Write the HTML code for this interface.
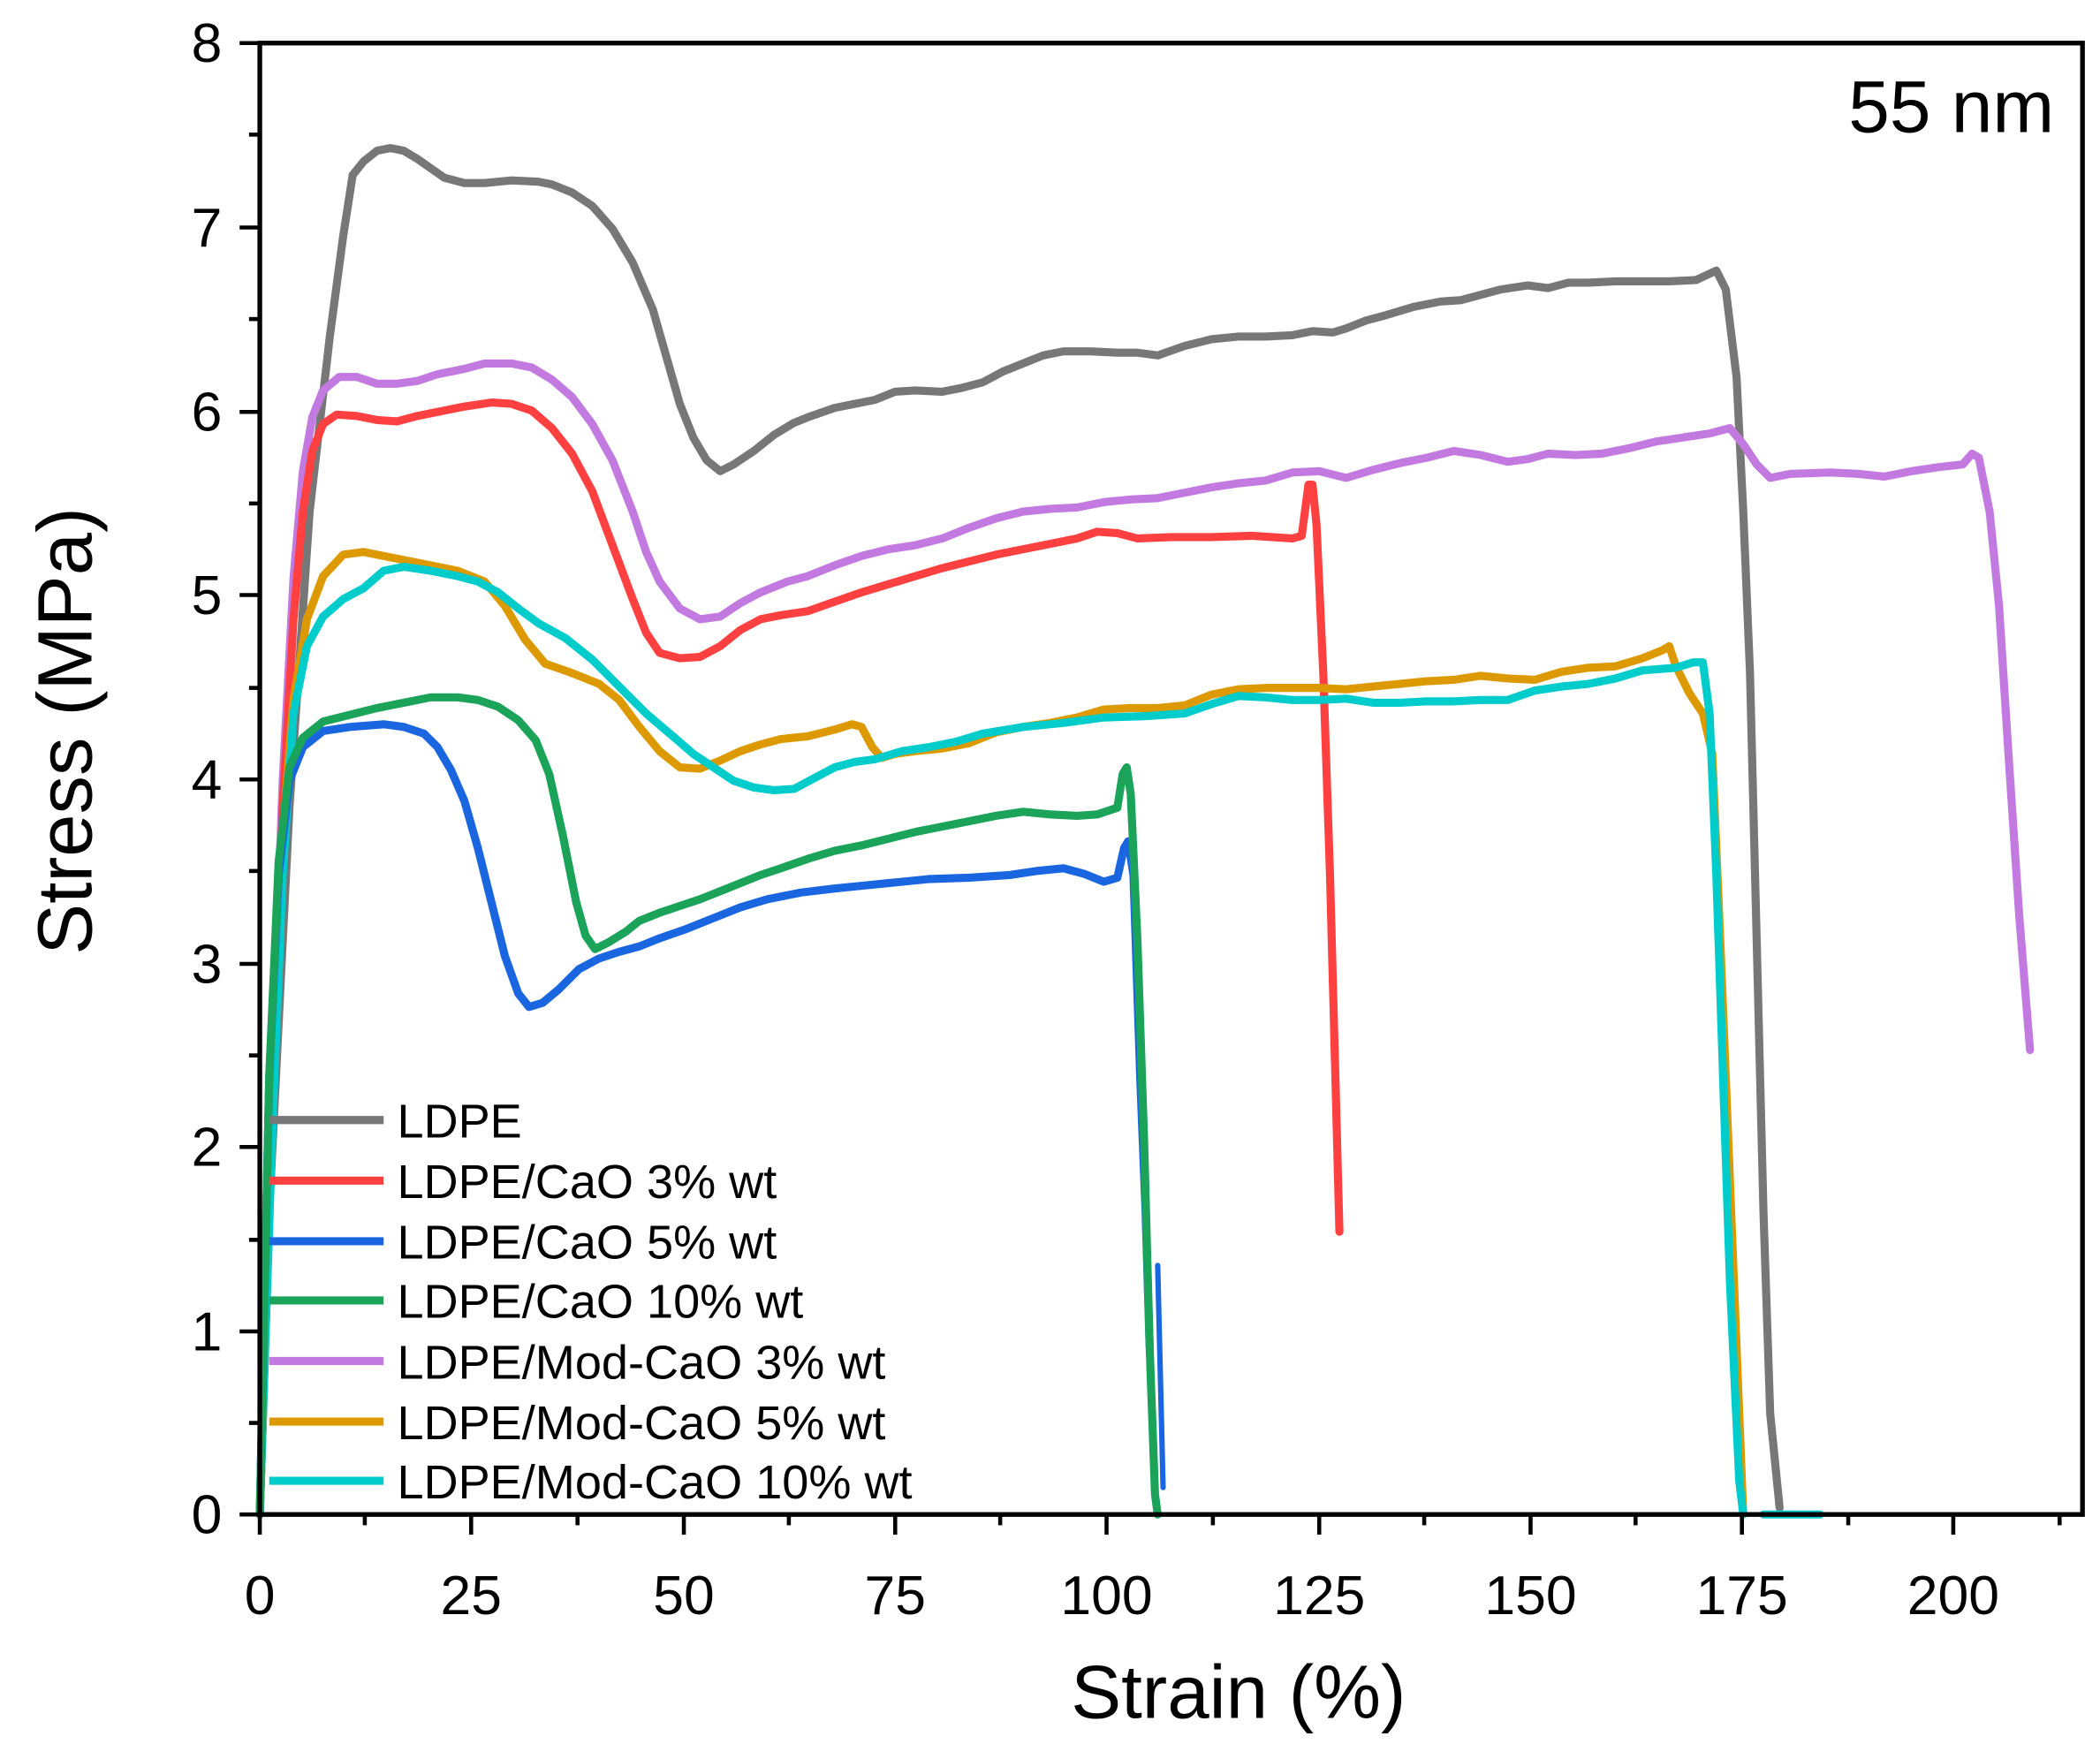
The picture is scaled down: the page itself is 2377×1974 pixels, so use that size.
<!DOCTYPE html>
<html><head><meta charset="utf-8"><style>html,body{margin:0;padding:0;background:#fff}svg{display:block}</style></head>
<body>
<svg width="2377" height="1974" viewBox="0 0 1560 1295.5" preserveAspectRatio="none" xmlns="http://www.w3.org/2000/svg" font-family="Liberation Sans, Arial, sans-serif">
<rect width="1560" height="1296" fill="#fff"/>
<g fill="none" stroke-linejoin="round" stroke-linecap="round" stroke-width="6">
<polyline stroke="#777777" points="193,1125 200,900 215,600 230,380 245,250 255,175 262,130 270,120 280,112 290,110 300,112 310,118 320,125 330,132 345,136 360,136 380,134 400,135 410,137 425,143 440,153 455,170 470,195 485,230 495,265 505,300 515,325 525,342 535,350 545,345 560,335 575,323 590,314 600,310 620,303 635,300 650,297 665,291 680,290 700,291 715,288 730,284 745,276 760,270 775,264 790,261 810,261 830,262 845,262 860,264 880,257 900,252 920,250 940,250 960,249 975,246 990,247 1000,244 1015,238 1030,234 1050,228 1070,224 1085,223 1100,219 1115,215 1135,212 1150,214 1165,210 1180,210 1200,209 1220,209 1240,209 1260,208 1275,201 1282,215 1290,280 1295,380 1300,500 1305,700 1310,900 1315,1050 1322,1120"/>
<polyline stroke="#c27ae0" points="193,1125 200,850 210,580 218,430 225,350 232,310 240,290 252,280 265,280 280,285 295,285 310,283 325,278 345,274 360,270 380,270 395,273 410,282 425,295 440,315 455,342 470,380 480,410 490,432 505,452 520,460 535,458 550,448 565,440 585,432 600,428 620,420 640,413 660,408 680,405 700,400 720,392 740,385 760,380 780,378 800,377 820,373 840,371 860,370 880,366 900,362 920,359 940,357 960,351 980,350 1000,355 1020,349 1040,344 1060,340 1080,335 1100,338 1120,343 1135,341 1150,337 1170,338 1190,337 1210,333 1230,328 1250,325 1270,322 1285,318 1295,330 1305,345 1315,355 1330,352 1360,351 1380,352 1400,354 1420,350 1440,347 1458,345 1465,337 1470,340 1478,380 1485,450 1492,560 1500,680 1508,780"/>
<polyline stroke="#ff4040" points="193,1125 200,900 210,600 218,460 225,380 232,335 240,315 250,308 265,309 280,312 295,313 310,309 325,306 345,302 365,299 380,300 395,305 410,318 425,337 440,365 455,405 470,445 480,470 490,485 505,489 520,488 535,480 550,468 565,460 580,457 600,454 620,447 640,440 660,434 680,428 700,422 720,417 740,412 760,408 780,404 800,400 815,395 830,396 845,400 870,399 900,399 930,398 960,400 967,398 972,360 975,360 978,390 983,500 988,650 992,800 995,915"/>
<polyline stroke="#dd9a00" points="193,1125 197,1000 203,800 210,620 218,520 228,460 240,428 255,412 270,410 285,413 300,416 320,420 340,424 360,432 375,450 390,475 405,493 425,500 445,508 460,520 475,540 490,558 505,570 520,571 535,565 550,558 565,553 580,549 600,547 620,542 633,538 640,540 648,555 655,563 665,560 680,558 700,556 720,552 740,544 760,540 780,537 800,533 820,527 840,526 860,526 880,524 900,516 920,512 940,511 960,511 980,511 1000,512 1020,510 1040,508 1060,506 1080,505 1100,502 1120,504 1140,505 1160,499 1180,496 1200,495 1220,489 1235,483 1240,480 1245,495 1255,515 1265,530 1272,560 1278,700 1284,850 1290,1000 1295,1125"/>
<polyline stroke="#00cccc" points="193,1125 197,1000 203,820 210,650 218,530 228,480 240,458 255,445 270,437 285,424 300,421 320,424 340,428 355,432 370,440 385,452 400,463 420,474 440,490 460,510 480,530 500,547 515,560 530,570 545,580 560,585 575,587 590,586 605,578 620,570 635,566 650,564 670,558 690,555 710,551 730,545 760,540 790,537 820,533 850,532 880,530 900,523 920,517 940,518 960,520 980,520 1000,519 1020,522 1040,522 1060,521 1080,521 1100,520 1120,520 1140,513 1160,510 1180,508 1200,504 1220,498 1245,496 1258,492 1265,492 1270,530 1275,650 1280,800 1285,950 1292,1100 1295,1125"/>
<polyline stroke="#00cccc" points="1310,1125 1352,1125"/>
<polyline stroke="#1a66e0" points="193,1125 200,800 207,650 215,580 225,555 240,543 260,540 285,538 300,540 315,545 325,555 335,572 345,595 355,630 365,670 375,710 385,738 393,748 403,745 415,735 430,720 445,712 460,707 475,703 490,697 510,690 530,682 550,674 570,668 595,663 620,660 640,658 660,656 690,653 720,652 750,650 770,647 790,645 805,649 820,655 830,652 835,630 838,625 842,650 847,800 851,900 854,1000"/>
<polyline stroke="#1a66e0" stroke-width="4" points="860,940 864,1105"/>
<polyline stroke="#1ba35a" points="193,1125 200,800 207,640 215,570 225,548 240,536 260,531 280,526 300,522 320,518 340,518 355,520 370,525 385,535 398,550 408,575 418,620 428,670 435,695 442,705 452,700 465,692 475,684 490,678 505,673 520,668 535,662 550,656 565,650 580,645 600,638 620,632 640,628 660,623 680,618 700,614 720,610 740,606 760,603 780,605 800,606 815,605 830,600 834,575 837,570 840,590 845,700 850,850 854,1000 858,1110 860,1125"/>
</g>
<rect x="193" y="32" width="1354" height="1093" fill="none" stroke="#000" stroke-width="3.5"/>
<g stroke="#000" stroke-width="3">
<line x1="178" y1="32" x2="193" y2="32"/><line x1="178" y1="169" x2="193" y2="169"/><line x1="178" y1="306" x2="193" y2="306"/><line x1="178" y1="442" x2="193" y2="442"/><line x1="178" y1="579" x2="193" y2="579"/><line x1="178" y1="716" x2="193" y2="716"/><line x1="178" y1="852" x2="193" y2="852"/><line x1="178" y1="989" x2="193" y2="989"/><line x1="178" y1="1125" x2="193" y2="1125"/>
<line x1="185" y1="100" x2="193" y2="100"/><line x1="185" y1="237" x2="193" y2="237"/><line x1="185" y1="374" x2="193" y2="374"/><line x1="185" y1="511" x2="193" y2="511"/><line x1="185" y1="647" x2="193" y2="647"/><line x1="185" y1="784" x2="193" y2="784"/><line x1="185" y1="921" x2="193" y2="921"/><line x1="185" y1="1057" x2="193" y2="1057"/>
<line x1="193" y1="1125" x2="193" y2="1140"/><line x1="350" y1="1125" x2="350" y2="1140"/><line x1="508" y1="1125" x2="508" y2="1140"/><line x1="665" y1="1125" x2="665" y2="1140"/><line x1="822" y1="1125" x2="822" y2="1140"/><line x1="980" y1="1125" x2="980" y2="1140"/><line x1="1137" y1="1125" x2="1137" y2="1140"/><line x1="1294" y1="1125" x2="1294" y2="1140"/><line x1="1451" y1="1125" x2="1451" y2="1140"/>
<line x1="271" y1="1125" x2="271" y2="1133"/><line x1="429" y1="1125" x2="429" y2="1133"/><line x1="586" y1="1125" x2="586" y2="1133"/><line x1="743" y1="1125" x2="743" y2="1133"/><line x1="901" y1="1125" x2="901" y2="1133"/><line x1="1058" y1="1125" x2="1058" y2="1133"/><line x1="1215" y1="1125" x2="1215" y2="1133"/><line x1="1373" y1="1125" x2="1373" y2="1133"/><line x1="1530" y1="1125" x2="1530" y2="1133"/>
</g>
<g font-size="41" fill="#000" text-anchor="end">
<text x="165" y="46">8</text><text x="165" y="183">7</text><text x="165" y="320">6</text><text x="165" y="456">5</text><text x="165" y="593">4</text><text x="165" y="730">3</text><text x="165" y="866">2</text><text x="165" y="1003">1</text><text x="165" y="1139">0</text>
</g>
<g font-size="41" fill="#000" text-anchor="middle">
<text x="193" y="1199">0</text><text x="350" y="1199">25</text><text x="508" y="1199">50</text><text x="665" y="1199">75</text><text x="822" y="1199">100</text><text x="980" y="1199">125</text><text x="1137" y="1199">150</text><text x="1294" y="1199">175</text><text x="1451" y="1199">200</text>
</g>
<text x="920" y="1276" font-size="56" text-anchor="middle">Strain (%)</text>
<text transform="translate(68,543) rotate(-90)" font-size="57" text-anchor="middle">Stress (MPa)</text>
<text x="1526" y="98" font-size="55" text-anchor="end">55 nm</text>
<g stroke-width="6" stroke-linecap="butt">
<line x1="200" y1="832" x2="285" y2="832" stroke="#777777"/>
<line x1="200" y1="877" x2="285" y2="877" stroke="#ff4040"/>
<line x1="200" y1="922" x2="285" y2="922" stroke="#1a66e0"/>
<line x1="200" y1="966" x2="285" y2="966" stroke="#1ba35a"/>
<line x1="200" y1="1011" x2="285" y2="1011" stroke="#c27ae0"/>
<line x1="200" y1="1056" x2="285" y2="1056" stroke="#dd9a00"/>
<line x1="200" y1="1100" x2="285" y2="1100" stroke="#00cccc"/>
</g>
<g font-size="35.5" fill="#000">
<text x="295" y="845">LDPE</text>
<text x="295" y="890">LDPE/CaO 3% wt</text>
<text x="295" y="935">LDPE/CaO 5% wt</text>
<text x="295" y="979">LDPE/CaO 10% wt</text>
<text x="295" y="1024">LDPE/Mod-CaO 3% wt</text>
<text x="295" y="1069">LDPE/Mod-CaO 5% wt</text>
<text x="295" y="1113">LDPE/Mod-CaO 10% wt</text>
</g>
</svg>
</body></html>
